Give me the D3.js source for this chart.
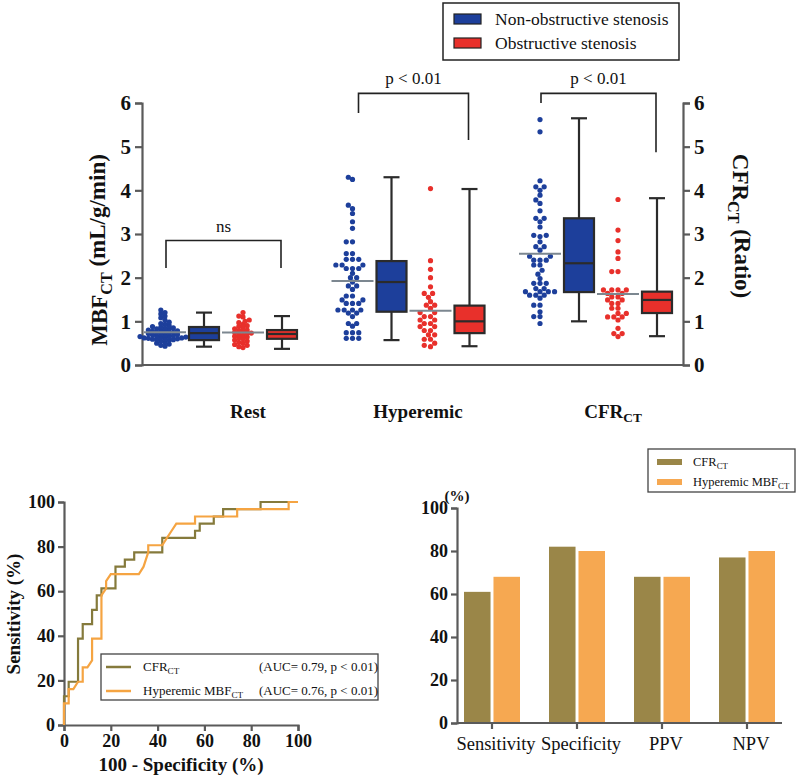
<!DOCTYPE html>
<html>
<head>
<meta charset="utf-8">
<script src="https://cdn.jsdelivr.net/npm/d3@7"></script>
<style>
  body { margin: 0; background: #fff; }
  svg, text { font-family: 'Liberation Serif', 'DejaVu Serif', serif; }
  text { fill: #111; }
</style>
</head>
<body>
<svg width="800" height="783"></svg>
<script>
const svg = d3.select('svg');

// ---- data: top panel (MBF / CFR per group) ----
const groups = ['Rest', 'Hyperemic', 'CFR'];

const restNonObs = [1.26, 1.2, 1.17, 1.12, 1.08, 1.03, 0.98, 0.95, 0.93, 0.9, 0.88, 0.87, 0.85, 0.84, 0.83,
  0.82, 0.8, 0.79, 0.78, 0.77, 0.76, 0.75, 0.74, 0.73, 0.72, 0.71, 0.7, 0.69, 0.68, 0.67, 0.66, 0.65,
  0.65, 0.64, 0.63, 0.62, 0.62, 0.61, 0.6, 0.6, 0.59, 0.58, 0.58, 0.57, 0.55, 0.52, 0.5, 0.48, 0.45, 0.43];
const restObs = [1.2, 1.12, 1.1, 1.03, 1.0, 0.97, 0.93, 0.9, 0.88, 0.85, 0.83, 0.8, 0.78, 0.77, 0.75, 0.73,
  0.72, 0.7, 0.68, 0.66, 0.64, 0.62, 0.6, 0.57, 0.55, 0.52, 0.5, 0.47, 0.45, 0.42, 0.4];
const hypNonObs = [4.3, 4.25, 3.66, 3.58, 3.47, 3.28, 3.13, 2.82, 2.82, 2.55, 2.55, 2.42, 2.42, 2.42, 2.29,
  2.29, 2.29, 2.21, 2.21, 2.21, 2.1, 2.0, 2.0, 1.9, 1.81, 1.81, 1.73, 1.58, 1.58, 1.49, 1.49, 1.41, 1.41,
  1.41, 1.26, 1.26, 1.26, 1.26, 1.19, 1.19, 1.11, 0.95, 0.95, 0.89, 0.74, 0.74, 0.74, 0.61, 0.61, 0.61];
const hypObs = [4.04, 2.39, 2.19, 2.0, 1.79, 1.64, 1.64, 1.55, 1.45, 1.37, 1.37, 1.3, 1.2, 1.2, 1.11, 1.11,
  1.03, 1.03, 0.95, 0.95, 0.88, 0.88, 0.79, 0.79, 0.69, 0.69, 0.59, 0.59, 0.5, 0.45, 0.42];
const cfrNonObs = [5.62, 5.34, 4.22, 4.08, 4.08, 4.0, 3.89, 3.78, 3.7, 3.53, 3.36, 3.36, 3.28, 3.16, 2.97,
  2.97, 2.94, 2.82, 2.71, 2.71, 2.63, 2.49, 2.49, 2.4, 2.4, 2.4, 2.29, 2.29, 2.17, 2.08, 1.98, 1.87, 1.87,
  1.87, 1.75, 1.75, 1.68, 1.68, 1.68, 1.68, 1.6, 1.6, 1.6, 1.53, 1.37, 1.37, 1.22, 1.11, 1.11, 0.95];
const cfrObs = [3.79, 3.09, 2.85, 2.59, 2.44, 2.14, 2.14, 1.72, 1.72, 1.72, 1.72, 1.64, 1.64, 1.56, 1.56,
  1.49, 1.49, 1.41, 1.41, 1.3, 1.3, 1.18, 1.18, 1.1, 1.1, 1.1, 1.03, 0.84, 0.72, 0.72, 0.65];

// box stats: [min, q1, median, q3, max]
const boxNonObs = [[0.42, 0.57, 0.73, 0.87, 1.2], [0.57, 1.22, 1.9, 2.38, 4.3], [1.0, 1.67, 2.33, 3.36, 5.65]];
const boxObs = [[0.37, 0.6, 0.71, 0.8, 1.12], [0.43, 0.73, 1.0, 1.36, 4.03], [0.66, 1.19, 1.49, 1.68, 3.82]];

const dotsNonObs = [restNonObs, hypNonObs, cfrNonObs];
const dotsObs = [restObs, hypObs, cfrObs];

// ---- data: ROC ----
const rocCfr = [[0, 0], [0, 12.9], [2, 12.9], [2, 19.4], [6, 19.4], [6, 38.7], [8, 38.7], [8, 45.2],
  [12, 45.2], [12, 51.6], [14, 51.6], [14, 58.1], [16, 58.1], [16, 61.3], [22, 61.3], [22, 71],
  [26, 71], [26, 74.2], [30, 74.2], [30, 77.4], [42, 77.4], [42, 83.9], [56, 83.9], [56, 87.1],
  [58, 87.1], [58, 90.3], [64, 90.3], [64, 93.5], [68, 93.5], [68, 96.8], [84, 96.8], [84, 100], [100, 100]];
const rocHyp = [[0, 0], [0, 9.7], [2, 9.7], [2, 16.1], [4, 16.1], [6, 19.4], [8, 19.4], [8, 25.8],
  [10, 25.8], [12, 29], [12, 38.7], [16, 38.7], [16, 58.1], [18, 61.3], [18, 64.5], [20, 67.7],
  [32, 67.7], [34, 71], [36, 77.4], [36, 80.6], [42, 80.6], [44, 83.9], [46, 87.1], [48, 90.3],
  [56, 90.3], [56, 93.5], [74, 93.5], [74, 96.8], [96, 96.8], [96, 100], [100, 100]];

// ---- data: diagnostic performance ----
const metrics = ['Sensitivity', 'Specificity', 'PPV', 'NPV'];
const barCfr = [61, 82, 68, 77];
const barHyp = [68, 80, 68, 80];

const blue = '#1d3f9b';
const red = '#e8302b';
const olive = '#9a8648';
const orange = '#f6a851';
const rocOlive = '#857a3c';
const rocOrange = '#f5a442';
const axisGrey = '#5a5a5a';

// subscript helper
const subText = (sel, main, sub, tail) => {
  sel.append('tspan').text(main);
  sel.append('tspan').attr('font-size', '0.7em').attr('dy', '0.3em').text(sub);
  if (tail) sel.append('tspan').attr('dy', '-0.3em').text(tail);
};

const styleAxis = (g, fs) => {
  g.attr('font-family', null);
  g.select('.domain').attr('stroke', axisGrey).attr('stroke-width', 2.2);
  g.selectAll('.tick line').attr('stroke', axisGrey).attr('stroke-width', 2.2);
  g.selectAll('.tick text').attr('font-size', fs).attr('font-weight', 'bold').attr('fill', '#111');
};

// =============== TOP PANEL ===============
const yTop = d3.scaleLinear().domain([0, 6]).range([365, 103]);
const xGroup = d3.scalePoint().domain(groups).range([165, 540]);
const xSub = d3.scalePoint().domain(['dN', 'bN', 'dO', 'bO']).range([0, 117]);
const swarmGap = [1.3, 1.75, 1.75];

const topPanel = svg.append('g');

topPanel.append('g')
  .attr('transform', 'translate(142,0)')
  .call(d3.axisLeft(yTop).ticks(6).tickSize(7).tickPadding(4))
  .call(g => styleAxis(g, 21));

topPanel.append('g')
  .attr('transform', 'translate(683,0)')
  .call(d3.axisRight(yTop).ticks(6).tickSize(7).tickPadding(4))
  .call(g => styleAxis(g, 21));

topPanel.append('line')
  .attr('x1', 142).attr('x2', 683)
  .attr('y1', yTop(0)).attr('y2', yTop(0))
  .attr('stroke', axisGrey).attr('stroke-width', 2.2);

// beeswarm layout of one column
const swarm = (values, cx, r, gap) => {
  const placed = [];
  values.slice().sort((a, b) => a - b).forEach(v => {
    const cy = yTop(v);
    for (let k = 0; k < 60; k++) {
      const off = (k % 2 === 0 ? 1 : -1) * Math.ceil(k / 2) * r * 0.8;
      const px = cx + off;
      const hit = placed.some(p => (p.x - px) ** 2 + (p.y - cy) ** 2 < (gap * r) ** 2);
      if (!hit) { placed.push({ x: px, y: cy }); break; }
    }
  });
  return placed;
};

const drawDots = (values, cx, color, gap) => {
  const r = 2.6;
  topPanel.append('g').selectAll('circle')
    .data(swarm(values, cx, r, gap))
    .enter().append('circle')
      .attr('cx', d => d.x)
      .attr('cy', d => d.y)
      .attr('r', r)
      .attr('fill', color);
  const mean = d3.mean(values);
  topPanel.append('line')
    .attr('x1', cx - 21).attr('x2', cx + 21)
    .attr('y1', yTop(mean)).attr('y2', yTop(mean))
    .attr('stroke', '#7c8790').attr('stroke-width', 2);
};

const drawBox = (s, cx, color) => {
  const g = topPanel.append('g').attr('stroke', '#2b2b2b').attr('stroke-width', 2.2);
  const w = 30, cap = 16;
  g.append('line').attr('x1', cx).attr('x2', cx).attr('y1', yTop(s[0])).attr('y2', yTop(s[4]));
  g.append('line').attr('x1', cx - cap / 2).attr('x2', cx + cap / 2).attr('y1', yTop(s[0])).attr('y2', yTop(s[0]));
  g.append('line').attr('x1', cx - cap / 2).attr('x2', cx + cap / 2).attr('y1', yTop(s[4])).attr('y2', yTop(s[4]));
  g.append('rect')
    .attr('x', cx - w / 2).attr('width', w)
    .attr('y', yTop(s[3])).attr('height', yTop(s[1]) - yTop(s[3]))
    .attr('fill', color);
  g.append('line').attr('x1', cx - w / 2).attr('x2', cx + w / 2).attr('y1', yTop(s[2])).attr('y2', yTop(s[2]));
};

groups.forEach((grp, i) => {
  const gx = xGroup(grp);
  drawDots(dotsNonObs[i], gx + xSub('dN'), blue, swarmGap[i]);
  drawBox(boxNonObs[i], gx + xSub('bN'), blue);
  drawDots(dotsObs[i], gx + xSub('dO'), red, swarmGap[i]);
  drawBox(boxObs[i], gx + xSub('bO'), red);
});

// significance brackets: [group, top, left leg end, right leg end, label]
const brackets = [
  ['Rest', 2.85, 2.22, 2.22, 'ns'],
  ['Hyperemic', 6.22, 5.77, 5.15, 'p < 0.01'],
  ['CFR', 6.22, 6.0, 4.87, 'p < 0.01']
];
brackets.forEach(([grp, yt, yl, yr, lab]) => {
  const x1 = xGroup(grp) + (grp === 'Hyperemic' ? 6 : 1);
  const x2 = xGroup(grp) + xSub('bO') - 1;
  topPanel.append('path')
    .attr('d', `M${x1},${yTop(yl)}V${yTop(yt)}H${x2}V${yTop(yr)}`)
    .attr('fill', 'none').attr('stroke', '#222').attr('stroke-width', 1.6);
  topPanel.append('text')
    .attr('x', (x1 + x2) / 2).attr('y', yTop(yt) - 9)
    .attr('text-anchor', 'middle').attr('font-size', 17)
    .text(lab);
});

// category labels
const catLabels = topPanel.append('g');
[['Rest', 248], ['Hyperemic', 418]].forEach(([t, x]) => {
  catLabels.append('text').attr('x', x).attr('y', 418)
    .attr('text-anchor', 'middle').attr('font-size', 19).attr('font-weight', 'bold').text(t);
});
catLabels.append('text').attr('x', 613).attr('y', 418)
  .attr('text-anchor', 'middle').attr('font-size', 19).attr('font-weight', 'bold')
  .call(s => subText(s, 'CFR', 'CT'));

// y titles
topPanel.append('text')
  .attr('transform', 'translate(107,250) rotate(-90)')
  .attr('text-anchor', 'middle').attr('font-size', 23).attr('font-weight', 'bold')
  .call(s => subText(s, 'MBF', 'CT', ' (mL/g/min)'));
topPanel.append('text')
  .attr('transform', 'translate(733,226) rotate(90)')
  .attr('text-anchor', 'middle').attr('font-size', 23).attr('font-weight', 'bold')
  .call(s => subText(s, 'CFR', 'CT', ' (Ratio)'));

// top legend
const leg = topPanel.append('g');
leg.append('rect').attr('x', 443).attr('y', 3).attr('width', 236).attr('height', 57)
  .attr('fill', '#fff').attr('stroke', '#222').attr('stroke-width', 1.5);
[['Non-obstructive stenosis', blue, 19], ['Obstructive stenosis', red, 43]].forEach(([t, c, yy]) => {
  leg.append('rect').attr('x', 454).attr('y', yy - 5).attr('width', 27).attr('height', 10)
    .attr('fill', c).attr('stroke', '#222').attr('stroke-width', 1.2);
  leg.append('text').attr('x', 495).attr('y', yy + 6).attr('font-size', 17.5).text(t);
});

// =============== ROC PANEL ===============
const xRoc = d3.scaleLinear().domain([0, 100]).range([64, 298]);
const yRoc = d3.scaleLinear().domain([0, 100]).range([725, 502]);
const roc = svg.append('g');

roc.append('g').attr('transform', 'translate(64,0)')
  .call(d3.axisLeft(yRoc).tickValues(d3.range(0, 101, 20)).tickSize(6).tickPadding(3))
  .call(g => styleAxis(g, 18));
roc.append('g').attr('transform', 'translate(0,725)')
  .call(d3.axisBottom(xRoc).tickValues(d3.range(0, 101, 20)).tickSize(6).tickPadding(3))
  .call(g => styleAxis(g, 18));

const rocLine = d3.line().x(d => xRoc(d[0])).y(d => yRoc(d[1]));
roc.append('path').datum(rocCfr).attr('d', rocLine)
  .attr('fill', 'none').attr('stroke', rocOlive).attr('stroke-width', 2.2);
roc.append('path').datum(rocHyp).attr('d', rocLine)
  .attr('fill', 'none').attr('stroke', rocOrange).attr('stroke-width', 2.2);

roc.append('text')
  .attr('transform', 'translate(20,614) rotate(-90)')
  .attr('text-anchor', 'middle').attr('font-size', 19).attr('font-weight', 'bold')
  .text('Sensitivity (%)');
roc.append('text')
  .attr('x', 181).attr('y', 771)
  .attr('text-anchor', 'middle').attr('font-size', 19).attr('font-weight', 'bold')
  .text('100 - Specificity (%)');

const rocLeg = roc.append('g');
rocLeg.append('rect').attr('x', 101).attr('y', 654).attr('width', 277).attr('height', 46)
  .attr('fill', '#fff').attr('stroke', '#444').attr('stroke-width', 1.3);
[['CFR', rocOlive, 667, '(AUC= 0.79, p < 0.01)'], ['Hyperemic MBF', rocOrange, 691, '(AUC= 0.76, p < 0.01)']]
  .forEach(([t, c, yy, auc]) => {
    rocLeg.append('line').attr('x1', 106).attr('x2', 131).attr('y1', yy).attr('y2', yy)
      .attr('stroke', c).attr('stroke-width', 2.5);
    rocLeg.append('text').attr('x', 143).attr('y', yy + 4).attr('font-size', 13)
      .call(s => subText(s, t, 'CT'));
    rocLeg.append('text').attr('x', 259).attr('y', yy + 4).attr('font-size', 13)
      .text(auc);
  });

// =============== BAR PANEL ===============
const xBar = d3.scalePoint().domain(metrics).range([492, 747]);
const xInner = d3.scaleBand().domain(['cfr', 'hyp']).range([-28, 28]).paddingInner(0.1);
const yBar = d3.scaleLinear().domain([0, 100]).range([723, 508]);
const bars = svg.append('g');

bars.append('g').attr('transform', 'translate(457,0)')
  .call(d3.axisLeft(yBar).tickValues(d3.range(0, 101, 20)).tickSize(6).tickPadding(3))
  .call(g => styleAxis(g, 18));

bars.append('g').selectAll('rect.c')
  .data(metrics)
  .enter().append('rect')
    .attr('x', d => xBar(d) + xInner('cfr'))
    .attr('width', xInner.bandwidth())
    .attr('y', (d, i) => yBar(barCfr[i]))
    .attr('height', (d, i) => yBar(0) - yBar(barCfr[i]))
    .attr('fill', olive);
bars.append('g').selectAll('rect.h')
  .data(metrics)
  .enter().append('rect')
    .attr('x', d => xBar(d) + xInner('hyp'))
    .attr('width', xInner.bandwidth())
    .attr('y', (d, i) => yBar(barHyp[i]))
    .attr('height', (d, i) => yBar(0) - yBar(barHyp[i]))
    .attr('fill', orange);

const xAxisBar = bars.append('g').attr('transform', 'translate(0,723)');
xAxisBar.append('line').attr('x1', 457).attr('x2', 782)
  .attr('stroke', axisGrey).attr('stroke-width', 2.2);
xAxisBar.selectAll('line.t')
  .data(metrics)
  .enter().append('line')
    .attr('x1', d => xBar(d)).attr('x2', d => xBar(d))
    .attr('y1', 0).attr('y2', 6)
    .attr('stroke', axisGrey).attr('stroke-width', 2.2);
xAxisBar.selectAll('text')
  .data(metrics)
  .enter().append('text')
    .attr('x', d => xBar(d) + 4).attr('y', 27)
    .attr('text-anchor', 'middle').attr('font-size', 18.5)
    .text(d => d);

bars.append('text').attr('x', 457).attr('y', 501).attr('text-anchor', 'middle')
  .attr('font-size', 15).attr('font-weight', 'bold').text('(%)');

const barLeg = bars.append('g');
barLeg.append('rect').attr('x', 648).attr('y', 449).attr('width', 147).attr('height', 43)
  .attr('fill', '#fff').attr('stroke', '#444').attr('stroke-width', 1.3);
[['CFR', olive, 462], ['Hyperemic MBF', orange, 482]].forEach(([t, c, yy]) => {
  barLeg.append('rect').attr('x', 657).attr('y', yy - 3).attr('width', 25).attr('height', 6).attr('fill', c);
  barLeg.append('text').attr('x', 693).attr('y', yy + 4).attr('font-size', 12.5)
    .call(s => subText(s, t, 'CT'));
});
</script>
</body>
</html>
